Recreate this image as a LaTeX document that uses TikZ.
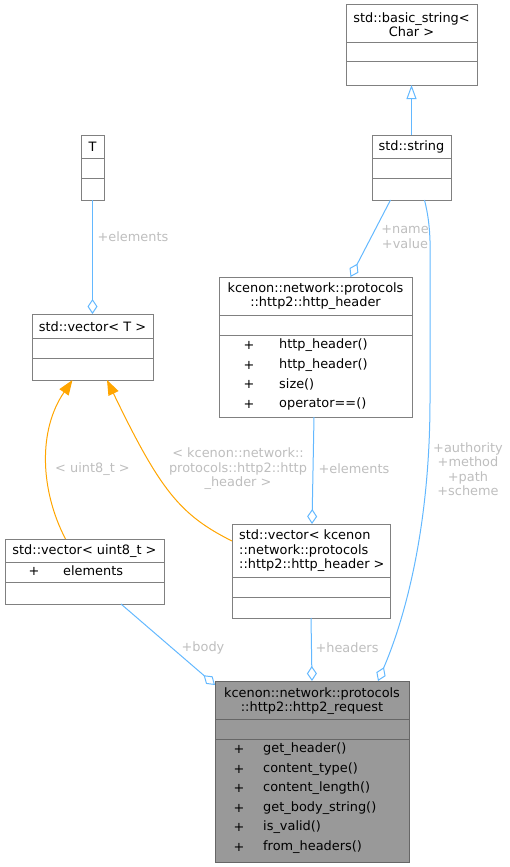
\documentclass[tikz,border=0pt]{standalone}
\usepackage{fontspec}
\setmainfont{DejaVu Sans}
\usetikzlibrary{arrows.meta}
\definecolor{boxgray}{HTML}{808080}
\definecolor{edgeblue}{HTML}{63B8FF}
\definecolor{edgeorange}{HTML}{FFA500}
\definecolor{labelgray}{HTML}{BEBEBE}
\definecolor{hlfill}{HTML}{999999}
\definecolor{hlborder}{HTML}{666666}
\begin{document}
\begin{tikzpicture}[x=1pt,y=-1pt,
  font=\fontsize{12.9}{14.5}\selectfont,
  box/.style={draw=boxgray, line width=1pt, fill=white, anchor=north west, inner sep=0pt, outer sep=0pt},
  hlbox/.style={box, draw=hlborder, fill=hlfill},
  divline/.style={draw=boxgray, line width=1pt},
  hldiv/.style={draw=hlborder, line width=1pt},
  ttl/.style={inner sep=0pt, align=center, text=black},
  ttll/.style={inner sep=0pt, align=left, anchor=west, text=black},
  mplus/.style={inner sep=0pt, text=black},
  mname/.style={inner sep=0pt, anchor=west, text=black},
  lbl/.style={inner sep=0pt, align=center, text=labelgray},
  agg/.style={draw=edgeblue, line width=1pt, -{Diamond[open, length=15pt, width=10pt]}},
  inh/.style={draw=edgeblue, line width=1pt, -{Triangle[open, length=14pt, width=10pt]}},
  tmpl/.style={draw=edgeorange, line width=1pt, -{Triangle[length=15pt, width=11pt, fill=edgeorange]}}
]
\useasboundingbox (0,0) rectangle (510,867);

% std::basic_string< Char >
\node[box, minimum width=131pt, minimum height=80pt] (bs) at (346,5) {};
\draw[divline] (346,43) -- (477,43);
\draw[divline] (346,62) -- (477,62);
\node[ttl] (bst) at (411.5,24.5) {std::basic\_string<\\Char >};

% std::string
\node[box, minimum width=79pt, minimum height=65pt] (str) at (372,135) {};
\draw[divline] (372,158) -- (451,158);
\draw[divline] (372,178) -- (451,178);
\node[ttl] (strt) at (411.5,147) {std::string};

% T
\node[box, minimum width=23pt, minimum height=65pt] (T) at (81,135) {};
\draw[divline] (81,158) -- (104,158);
\draw[divline] (81,178) -- (104,178);
\node[ttl] (Tt) at (92.5,147) {T};

% http_header
\node[box, minimum width=193pt, minimum height=140pt] (hh) at (219,277) {};
\draw[divline] (219,315) -- (412,315);
\draw[divline] (219,335) -- (412,335);
\node[ttl] (hht) at (315.5,296) {kcenon::network::protocols\\::http2::http\_header};
\node[mplus] (hhp1) at (249,345) {+};
\node[mname] (hhm1) at (279,345) {http\_header()};
\node[mplus] (hhp2) at (249,365) {+};
\node[mname] (hhm2) at (279,365) {http\_header()};
\node[mplus] (hhp3) at (249,384) {+};
\node[mname] (hhm3) at (279,384) {size()};
\node[mplus] (hhp4) at (249,404) {+};
\node[mname] (hhm4) at (279,404) {operator==()};

% std::vector< T >
\node[box, minimum width=121pt, minimum height=66pt] (vT) at (32,314) {};
\draw[divline] (32,338) -- (153,338);
\draw[divline] (32,358) -- (153,358);
\node[ttl] (vTt) at (92.5,327) {std::vector< T >};

% std::vector< uint8_t >
\node[box, minimum width=159pt, minimum height=65pt] (vu) at (5,539) {};
\draw[divline] (5,562) -- (164,562);
\draw[divline] (5,582) -- (164,582);
\node[ttl] (vut) at (84.5,551) {std::vector< uint8\_t >};
\node[mplus] (vup1) at (34,571) {+};
\node[mname] (vum1) at (63,571) {elements};

% std::vector< http_header >
\node[box, minimum width=158pt, minimum height=94pt] (vh) at (232,524) {};
\draw[divline] (232,577) -- (390,577);
\draw[divline] (232,597) -- (390,597);
\node[ttll] (vht) at (239,551) {std::vector< kcenon\\::network::protocols\\::http2::http\_header >};

% http2_request (highlighted)
\node[hlbox, minimum width=194pt, minimum height=181pt] (req) at (215,681) {};
\draw[hldiv] (215,719) -- (409,719);
\draw[hldiv] (215,739) -- (409,739);
\node[ttl] (reqt) at (312,701) {kcenon::network::protocols\\::http2::http2\_request};
\node[mplus] (rp1) at (239,749) {+};
\node[mname] (rm1) at (263,749) {get\_header()};
\node[mplus] (rp2) at (239,769) {+};
\node[mname] (rm2) at (263,769) {content\_type()};
\node[mplus] (rp3) at (239,788) {+};
\node[mname] (rm3) at (263,788) {content\_length()};
\node[mplus] (rp4) at (239,808) {+};
\node[mname] (rm4) at (263,808) {get\_body\_string()};
\node[mplus] (rp5) at (239,827) {+};
\node[mname] (rm5) at (263,827) {is\_valid()};
\node[mplus] (rp6) at (239,847) {+};
\node[mname] (rm6) at (263,847) {from\_headers()};

% connectors
\draw[inh] (str.north) -- (bs.south);
\draw[agg] (T.south) -- (vT.north);
\draw[agg] ([xshift=-21pt]str.south) -- ([xshift=35pt]hh.north);
\draw[agg] ([xshift=13pt]str.south) .. controls (432,230) and (430,250) .. (430,300)
   -- (430,400) .. controls (430,540) and (400,630) .. ([xshift=66pt]req.north);
\draw[agg] ([xshift=-1.5pt]hh.south) -- ([xshift=1pt]vh.north);
\draw[tmpl] ([xshift=-19pt]vu.north) .. controls (40,490) and (38,430) .. ([xshift=-20pt]vT.south);
\draw[tmpl] ([yshift=30pt]vh.west) .. controls (180,515) and (160,490) .. ([xshift=14.5pt]vT.south);
\draw[agg] ([xshift=36.5pt]vu.south) -- ([yshift=-4pt]req.north west);
\draw[agg] (vh.south) -- (req.north);

% labels
\node[lbl] (l1) at (133,237) {+elements};
\node[lbl] (l2) at (405,237) {+name\\+value};
\node[lbl] (l3) at (468,469) {+authority\\+method\\+path\\+scheme};
\node[lbl] (l4) at (354,469) {+elements};
\node[lbl] (l5) at (92.5,469) {< uint8\_t >};
\node[lbl] (l6) at (238,469) {< kcenon::network::\\protocols::http2::http\\\_header >};
\node[lbl] (l7) at (203,648) {+body};
\node[lbl] (l8) at (347,648) {+headers};
\end{tikzpicture}
\end{document}
